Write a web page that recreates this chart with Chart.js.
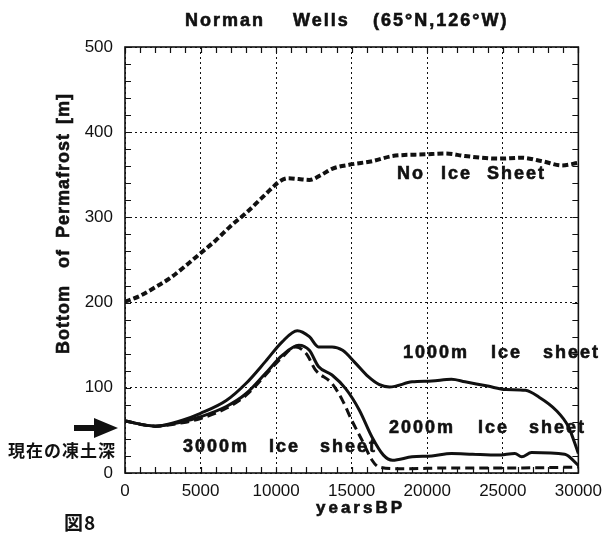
<!DOCTYPE html>
<html>
<head>
<meta charset="utf-8">
<script src="https://cdn.jsdelivr.net/npm/chart.js@4.4.0/dist/chart.umd.min.js"></script>
<style>
  html, body { margin: 0; padding: 0; background: #fff; }
</style>
</head>
<body>
<canvas id="chart" width="610" height="533"></canvas>
<script>
// values (years BP, depth in m)
const xTickValues = [0, 5000, 10000, 15000, 20000, 25000, 30000];
const yTickValues = [0, 100, 200, 300, 400, 500];

const noIceYears = [0, 1000, 2000, 3000, 4000, 5000, 6000, 7000, 8000, 9000, 9700, 10200, 10800, 11500, 12200, 13000, 13700, 14900, 16350, 17700, 19900, 21200, 22500, 24700, 26250, 27600, 28900, 30000];
const noIceDepth = [201, 208, 218, 229, 243, 258, 273, 290, 305, 322, 334, 342, 346, 345, 344, 350, 357, 362, 366, 372, 374, 375, 372, 369, 370, 366, 361, 364];

const ice1000Years = [0, 2000, 3800, 5000, 6700, 8000, 9300, 10400, 11400, 12200, 12800, 13700, 14400, 15250, 16100, 16800, 17500, 19000, 20300, 21600, 22500, 24000, 25200, 26500, 27400, 28500, 29350, 30000];
const ice1000Depth = [61, 55, 62, 70, 85, 105, 131, 154, 167, 160, 148, 148, 144, 129, 113, 104, 101, 107, 108, 110, 107, 102, 98, 97, 89, 74, 54, 23];

const ice2000Years = [0, 2000, 3800, 5000, 6700, 8000, 9300, 10400, 11500, 12200, 12800, 13700, 14600, 15500, 16350, 17100, 17700, 19000, 20300, 21600, 23000, 24700, 25800, 26250, 26900, 29100, 30000];
const ice2000Depth = [61, 55, 60, 66, 78, 93, 117, 138, 150, 144, 125, 115, 99, 74, 42, 21, 15, 19, 20, 23, 22, 21, 23, 19, 24, 22, 9];

const ice3000Years = [0, 2000, 3800, 5000, 6700, 8000, 9300, 10400, 11300, 12000, 12600, 13700, 14400, 15000, 15700, 16350, 16800, 18100, 22000, 26000, 30000];
const ice3000Depth = [61, 55, 59, 64, 76, 91, 115, 136, 148, 140, 121, 105, 85, 62, 38, 15, 7, 5, 6, 6, 7];

const toPoints = (xs, ys) => xs.map((x, i) => ({ x, y: ys[i] }));
const INK = '#111';
const SANS = '"Liberation Sans", Arial, sans-serif';

// draws the words of a label one by one (the original has wide word gaps);
// a thin stroke thickens the glyphs like the scanned print
const drawWords = (ctx, words, xs, y) => {
  words.forEach((w, i) => {
    ctx.fillText(w, xs[i], y);
    ctx.strokeText(w, xs[i], y);
  });
};

const decor = {
  id: 'decor',
  beforeDatasetsDraw(chart) {
    const { ctx, chartArea: a, scales: { x, y } } = chart;
    ctx.save();
    ctx.strokeStyle = INK;
    ctx.lineWidth = 1.2;
    ctx.beginPath();
    for (let v = 0; v <= 500; v += 20) {
      const py = Math.round(y.getPixelForValue(v)) + 0.5;
      ctx.moveTo(a.left, py); ctx.lineTo(a.left + 6, py);
      ctx.moveTo(a.right, py); ctx.lineTo(a.right - 6, py);
    }
    for (let v = 0; v <= 30000; v += 1000) {
      const px = Math.round(x.getPixelForValue(v)) + 0.5;
      ctx.moveTo(px, a.bottom); ctx.lineTo(px, a.bottom - 6);
      ctx.moveTo(px, a.top); ctx.lineTo(px, a.top + 6);
    }
    ctx.stroke();
    ctx.lineWidth = 1.6;
    ctx.strokeRect(a.left, a.top, a.right - a.left, a.bottom - a.top);
    ctx.restore();
  },
  afterDraw(chart) {
    const { ctx } = chart;
    ctx.save();
    ctx.fillStyle = INK;
    ctx.strokeStyle = INK;
    ctx.lineWidth = 0.6;
    ctx.textBaseline = 'middle';
    ctx.textAlign = 'left';

    // title
    ctx.font = 'bold 18px ' + SANS;
    ctx.letterSpacing = '2px';
    drawWords(ctx, ['Norman', 'Wells', '(65°N,126°W)'], [185, 293, 373], 21);

    // curve labels
    drawWords(ctx, ['No', 'Ice', 'Sheet'], [397, 441, 487], 174);
    drawWords(ctx, ['1000m', 'Ice', 'sheet'], [403, 491, 543], 353);
    drawWords(ctx, ['2000m', 'Ice', 'sheet'], [389, 478, 529], 428);
    drawWords(ctx, ['3000m', 'Ice', 'sheet'], [183, 269, 320], 447);

    // axis titles
    ctx.font = 'bold 17px ' + SANS;
    ctx.letterSpacing = '3px';
    drawWords(ctx, ['yearsBP'], [316], 508);

    ctx.save();
    ctx.translate(64, 0);
    ctx.rotate(-Math.PI / 2);
    ctx.font = 'bold 18px ' + SANS;
    ctx.letterSpacing = '1px';
    drawWords(ctx, ['Bottom', 'of', 'Permafrost', '[m]'], [-354, -268, -238, -124], 0);
    ctx.restore();

    // present permafrost depth marker
    ctx.letterSpacing = '0px';
    ctx.beginPath();
    ctx.moveTo(74, 425); ctx.lineTo(94, 425); ctx.lineTo(94, 418);
    ctx.lineTo(118, 428); ctx.lineTo(94, 438); ctx.lineTo(94, 431);
    ctx.lineTo(74, 431); ctx.closePath();
    ctx.fill();

    ctx.font = 'bold 17px "Noto Sans CJK JP", sans-serif';
    ctx.letterSpacing = '1px';
    ctx.fillText('現在の凍土深', 8, 451);
    ctx.font = 'bold 19px "Noto Sans CJK JP", sans-serif';
    ctx.fillText('図8', 64, 523);
    ctx.restore();
  }
};

const lineSet = (label, pts, width, dash) => ({
  label,
  data: pts,
  borderColor: INK,
  backgroundColor: INK,
  borderWidth: width,
  borderDash: dash,
  pointRadius: 0,
  fill: false,
  cubicInterpolationMode: 'monotone'
});

new Chart(document.getElementById('chart'), {
  type: 'line',
  data: {
    datasets: [
      lineSet('3000m Ice sheet', toPoints(ice3000Years, ice3000Depth), 3, [9, 5]),
      lineSet('2000m Ice sheet', toPoints(ice2000Years, ice2000Depth), 3, []),
      lineSet('1000m Ice sheet', toPoints(ice1000Years, ice1000Depth), 3, []),
      lineSet('No Ice Sheet', toPoints(noIceYears, noIceDepth), 4, [6, 3])
    ]
  },
  options: {
    responsive: false,
    animation: false,
    layout: { padding: { left: 0, right: 31, top: 47, bottom: 0 } },
    plugins: { legend: { display: false }, tooltip: { enabled: false } },
    scales: {
      x: {
        type: 'linear',
        min: 0,
        max: 30000,
        afterBuildTicks: s => { s.ticks = xTickValues.map(v => ({ value: v })); },
        afterFit: s => { s.height = 60; },
        grid: { color: INK, lineWidth: 1, drawTicks: false },
        border: { display: false, dash: [2, 3] },
        ticks: {
          color: INK,
          padding: 8,
          maxRotation: 0,
          font: { family: SANS, size: 17 },
          callback: v => String(v)
        }
      },
      y: {
        min: 0,
        max: 500,
        afterBuildTicks: s => { s.ticks = yTickValues.map(v => ({ value: v })); },
        afterFit: s => { s.width = 125; },
        grid: { color: INK, lineWidth: 1, drawTicks: false },
        border: { display: false, dash: [2, 3] },
        ticks: {
          color: INK,
          padding: 12,
          font: { family: SANS, size: 17 },
          callback: v => String(v)
        }
      }
    }
  },
  plugins: [decor]
});
</script>
</body>
</html>
